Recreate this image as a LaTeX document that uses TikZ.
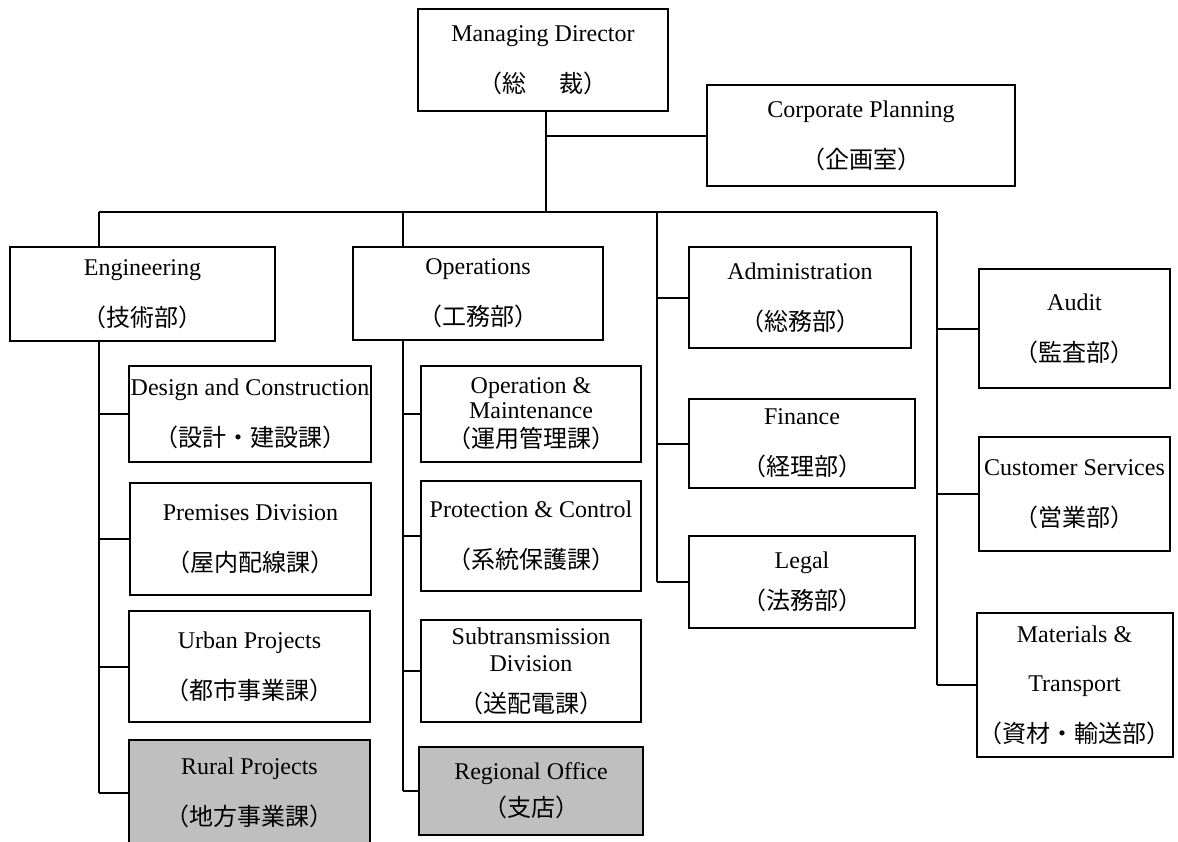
\documentclass[tikz,border=0pt]{standalone}
\usepackage{fontspec}
\setmainfont{Liberation Serif}
\newfontfamily\jpfont{Noto Sans CJK JP}
\usepackage{tikz}
\usetikzlibrary{calc, positioning}
\newcommand{\jpn}[1]{{\jpfont #1}}
\tikzset{
    unit/.style={rectangle, draw=black, line width=1pt, fill=white, align=center, inner xsep=1pt, inner ysep=2pt, font={\fontsize{12}{14.5}\selectfont}},
    branch/.style={unit, fill=black!25},
    link/.style={draw=black, line width=1pt}
}

\begin{document}
\begin{tikzpicture}[x=0.5pt, y=-0.5pt]
    % Page frame
    \useasboundingbox (0,0) rectangle (1178,841);
    \clip (0,0) rectangle (1178,841);

    % Top management
    \node[unit, minimum width=125pt, minimum height=51pt] (md) at (543,60) {Managing Director\\[11pt]\jpn{（総　\hspace{0.4em}裁）}};
    \node[unit, minimum width=154pt, minimum height=50.5pt] (plan) at (861,135.5) {Corporate Planning\\[11pt]\jpn{（企画室）}};

    % Departments
    \node[unit, minimum width=132.5pt, minimum height=47pt] (eng) at (142.5,294) {Engineering\\[11pt]\jpn{（技術部）}};
    \node[unit, minimum width=125pt, minimum height=46.5pt] (ops) at (478,293.5) {Operations\\[11pt]\jpn{（工務部）}};
    \node[unit, minimum width=111pt, minimum height=50.5pt] (admin) at (800,297.5) {Administration\\[11pt]\jpn{（総務部）}};
    \node[unit, minimum width=113pt, minimum height=44.5pt] (fin) at (802,443.5) {Finance\\[11pt]\jpn{（経理部）}};
    \node[unit, minimum width=113pt, minimum height=46pt] (legal) at (802,582) {Legal\\[6pt]\jpn{（法務部）}};
    \node[unit, minimum width=95.5pt, minimum height=59.5pt] (audit) at (1074.5,328.5) {Audit\\[11pt]\jpn{（監査部）}};
    \node[unit, minimum width=95.5pt, minimum height=57pt] (cs) at (1074.5,494) {Customer Services\\[11pt]\jpn{（営業部）}};
    \node[unit, minimum width=95.5pt, minimum height=72pt] (mat) at (1074.5,685) {Materials \&\\[10pt]Transport\\[11pt]\jpn{（資材・輸送部）}};

    % Engineering sections
    \node[unit, minimum width=121pt, minimum height=48pt] (design) at (250,414) {Design and Construction\\[11pt]\jpn{（設計・建設課）}};
    \node[unit, minimum width=120.5pt, minimum height=56pt] (prem) at (250.5,539) {Premises Division\\[11pt]\jpn{（屋内配線課）}};
    \node[unit, minimum width=120.5pt, minimum height=55.5pt] (urban) at (249.5,666.5) {Urban Projects\\[11pt]\jpn{（都市事業課）}};
    \node[branch, minimum width=120.5pt, minimum height=52.5pt] (rural) at (249.5,792.5) {Rural Projects\\[11pt]\jpn{（地方事業課）}};

    % Operations sections
    \node[unit, minimum width=110pt, minimum height=48pt] (om) at (531,414) {Operation \&\\[-2pt]Maintenance\\\jpn{（運用管理課）}};
    \node[unit, minimum width=110pt, minimum height=55pt] (prot) at (531,536) {Protection \& Control\\[11pt]\jpn{（系統保護課）}};
    \node[unit, minimum width=110pt, minimum height=51pt] (sub) at (531,671) {Subtransmission\\[-1pt]Division\\[6pt]\jpn{（送配電課）}};
    \node[branch, minimum width=112pt, minimum height=44pt] (reg) at (531,791) {Regional Office\\[4pt]\jpn{（支店）}};

    % Bus lines
    \coordinate (hub) at (546,212);
    \coordinate (busL) at (99,212);
    \coordinate (busR) at (937,212);
    \coordinate (opsTop) at (403,212);
    \coordinate (admTop) at (657,212);

    \draw[link] (md.south -| hub) -- (hub);
    \draw[link] (hub |- plan.west) -- (plan.west);
    \draw[link] (busL) -- (busR);
    \draw[link] (busL) -- (busL |- eng.north);
    \draw[link] (opsTop) -- (opsTop |- ops.north);

    % Staff departments
    \draw[link] (admTop) -- (admTop |- legal.west);
    \draw[link] (admTop |- admin.west) -- (admin.west);
    \draw[link] (admTop |- fin.west) -- (fin.west);
    \draw[link] (admTop |- legal.west) -- (legal.west);
    \draw[link] (busR) -- (busR |- mat.west);
    \draw[link] (busR |- audit.west) -- (audit.west);
    \draw[link] (busR |- cs.west) -- (cs.west);
    \draw[link] (busR |- mat.west) -- (mat.west);

    % Engineering sections
    \draw[link] (busL |- eng.south) -- (busL |- rural.west);
    \draw[link] (busL |- design.west) -- (design.west);
    \draw[link] (busL |- prem.west) -- (prem.west);
    \draw[link] (busL |- urban.west) -- (urban.west);
    \draw[link] (busL |- rural.west) -- (rural.west);

    % Operations sections
    \draw[link] (opsTop |- ops.south) -- (opsTop |- reg.west);
    \draw[link] (opsTop |- om.west) -- (om.west);
    \draw[link] (opsTop |- prot.west) -- (prot.west);
    \draw[link] (opsTop |- sub.west) -- (sub.west);
    \draw[link] (opsTop |- reg.west) -- (reg.west);

\end{tikzpicture}
\end{document}
